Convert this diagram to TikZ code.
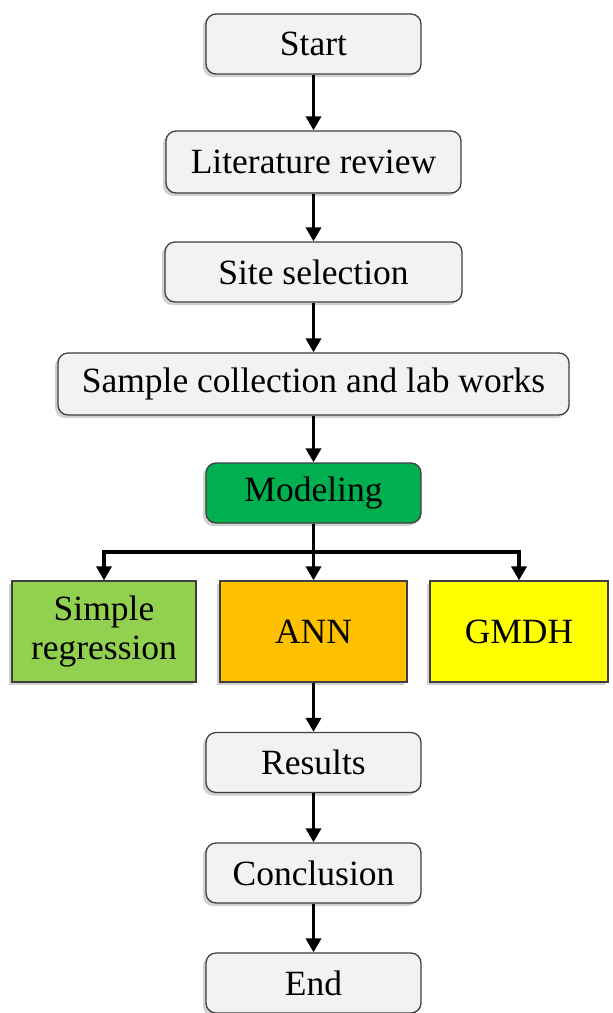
\documentclass[tikz,border=0pt]{standalone}
\usepackage{fontspec}
\setmainfont{Liberation Serif}
\usetikzlibrary{arrows.meta,shadows}

\definecolor{boxgray}{HTML}{F2F2F2}
\definecolor{edgegray}{HTML}{3F3F3F}
\definecolor{modgreen}{HTML}{00B050}
\definecolor{reggreen}{HTML}{92D050}
\definecolor{annorange}{HTML}{FFC000}
\definecolor{gmdhyellow}{HTML}{FFFF00}

\begin{document}
\begin{tikzpicture}[x=1pt,y=-1pt,
  stepbox/.style={draw=edgegray,line width=1.3pt,rounded corners=10pt,fill=boxgray,
    minimum height=60pt,inner sep=0pt,font=\fontsize{35.5}{39}\selectfont,
    drop shadow={shadow xshift=-3pt,shadow yshift=-3pt,fill=black,opacity=0.18}},
  methodbox/.style={draw=edgegray,line width=1.3pt,minimum height=101pt,inner sep=0pt,
    align=center,font=\fontsize{35.5}{39}\selectfont,
    drop shadow={shadow xshift=-3pt,shadow yshift=-3pt,fill=black,opacity=0.18}},
  arr/.style={line width=3.6pt,-{Triangle[width=15pt,length=14pt]}},
  plain/.style={line width=3.6pt}]
\useasboundingbox (0,0) rectangle (613,1013);

\node[stepbox,minimum width=215pt] (start) at (313.5,44) {Start};
\node[stepbox,minimum width=295pt,minimum height=62pt] (lit) at (313.5,162) {Literature review};
\node[stepbox,minimum width=297pt] (site) at (313.5,272) {Site selection};
\node[stepbox,minimum width=511pt,minimum height=62pt] (sample) at (313.5,384) {Sample collection and lab works};
\node[stepbox,minimum width=215pt,fill=modgreen] (modeling) at (313.5,493) {Modeling};

\node[methodbox,minimum width=184pt,fill=reggreen] (simple) at (104,631.5) {Simple\\regression};
\node[methodbox,minimum width=187pt,fill=annorange] (ann) at (313.5,631.5) {ANN};
\node[methodbox,minimum width=178pt,fill=gmdhyellow] (gmdh) at (519,631.5) {GMDH};

\node[stepbox,minimum width=215pt] (results) at (313.5,762.5) {Results};
\node[stepbox,minimum width=215pt] (conclusion) at (313.5,873) {Conclusion};
\node[stepbox,minimum width=215pt] (end) at (313.5,983) {End};

\coordinate (split) at (313.5,552);

\draw[arr] (start) -- (lit);
\draw[arr] (lit) -- (site);
\draw[arr] (site) -- (sample);
\draw[arr] (sample) -- (modeling);
\draw[plain] (modeling) -- (split);
\draw[arr] (split) -| (simple);
\draw[arr] (split) -- (ann);
\draw[arr] (split) -| (gmdh);
\draw[arr] (ann) -- (results);
\draw[arr] (results) -- (conclusion);
\draw[arr] (conclusion) -- (end);
\end{tikzpicture}
\end{document}
